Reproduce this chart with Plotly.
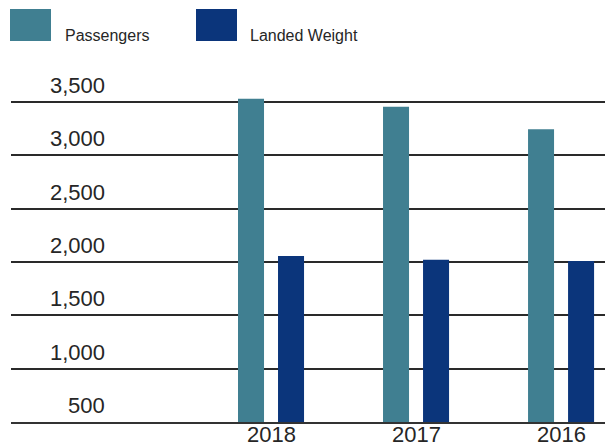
import plotly.graph_objects as go

# Data
years = ["2018", "2017", "2016"]
passengers = [3530, 3455, 3245]
landed_weight = [2055, 2020, 2010]
series_names = ["Passengers", "Landed Weight"]
series_colors = ["#407F91", "#0B357B"]
y_ticks = [500, 1000, 1500, 2000, 2500, 3000, 3500]

W, H = 605, 446
ML, MR, MT, MB = 11, 0, 80, 24
PW, PH = W - ML - MR, H - MT - MB

FONT = "Liberation Sans, Arial, Helvetica, sans-serif"
TEXT = "#262626"


def px_x(x):
    return (x - ML) / PW


def px_y(y):
    return 1 - (y - MT) / PH


fig = go.Figure()
for name, vals, col in zip(series_names, [passengers, landed_weight], series_colors):
    fig.add_trace(go.Bar(x=years, y=vals, name=name, marker=dict(color=col, line=dict(width=0)),
                         showlegend=False))

annotations = []
# value labels on the left, sitting above each gridline
for v in y_ticks:
    annotations.append(dict(
        x=px_x(107), xref="paper", y=v, yref="y", text=f"{v:,}",
        showarrow=False, xanchor="right", yanchor="bottom", yshift=2,
        font=dict(family=FONT, size=22, color=TEXT)))

# year labels tucked just under the baseline (category index positions)
for i, yr in enumerate(years):
    annotations.append(dict(
        x=i, xref="x", y=px_y(434.5), yref="paper", text=yr,
        showarrow=False, xanchor="center", yanchor="middle", borderpad=0,
        font=dict(family=FONT, size=22, color=TEXT)))

# legend: coloured blocks with names
shapes = []
legend_x = [10, 196]
text_x = [63, 248]
for name, col, lx, tx in zip(series_names, series_colors, legend_x, text_x):
    shapes.append(dict(type="rect", xref="paper", yref="paper",
                       x0=px_x(lx), x1=px_x(lx + 41), y0=px_y(41), y1=px_y(9),
                       fillcolor=col, line=dict(width=0)))
    annotations.append(dict(
        x=px_x(tx), xref="paper", y=px_y(35), yref="paper", text=name,
        showarrow=False, xanchor="left", yanchor="middle",
        font=dict(family=FONT, size=16, color=TEXT)))

fig.update_layout(
    template="none",
    width=W, height=H,
    margin=dict(l=ML, r=MR, t=MT, b=MB, pad=0),
    paper_bgcolor="white", plot_bgcolor="white",
    barmode="group", bargap=0.448, bargroupgap=0.35,
    showlegend=False,
    shapes=shapes,
    annotations=annotations,
    xaxis=dict(
        type="category", range=[-1.793, 2.303],
        showgrid=False, zeroline=False,
        showline=True, linecolor="#333333", linewidth=1.5,
        ticks="", showticklabels=False, automargin=False,
    ),
    yaxis=dict(
        range=[500, 3706], tickvals=y_ticks, showticklabels=False,
        showgrid=True, gridcolor="#2a2a2a", gridwidth=1.5,
        zeroline=False, showline=False, ticks="", automargin=False,
    ),
)

fig.write_html("out.html")
